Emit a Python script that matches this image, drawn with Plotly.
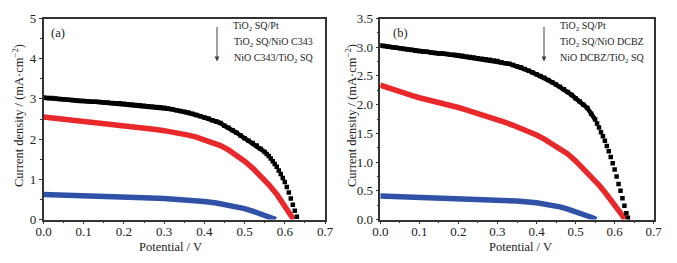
import plotly.graph_objects as go

# ---------------- Panel (a) data ----------------
a_black_x = [0.00, 0.01, 0.02, 0.03, 0.04, 0.05, 0.06, 0.07, 0.08, 0.09, 0.10, 0.11, 0.12, 0.13, 0.14,
             0.15, 0.16, 0.17, 0.18, 0.19, 0.20, 0.21, 0.22, 0.23, 0.24, 0.25, 0.26, 0.27, 0.28, 0.29,
             0.30, 0.31, 0.32, 0.33, 0.34, 0.35, 0.36, 0.37, 0.38, 0.39, 0.40, 0.41, 0.42, 0.43, 0.44,
             0.45, 0.46, 0.47, 0.48, 0.49, 0.50, 0.51, 0.52, 0.53, 0.54, 0.55, 0.555, 0.56, 0.565,
             0.57, 0.575, 0.58, 0.585, 0.59, 0.595, 0.60, 0.605, 0.61, 0.615, 0.62, 0.625, 0.63]
a_black_y = [3.03, 3.02, 3.02, 3.01, 3.00, 2.99, 2.98, 2.97, 2.96, 2.95, 2.95, 2.94, 2.93, 2.93, 2.92,
             2.91, 2.91, 2.90, 2.89, 2.89, 2.88, 2.87, 2.86, 2.85, 2.84, 2.83, 2.82, 2.81, 2.80, 2.79,
             2.78, 2.76, 2.74, 2.72, 2.70, 2.68, 2.66, 2.63, 2.60, 2.57, 2.54, 2.51, 2.47, 2.44, 2.40,
             2.33, 2.28, 2.22, 2.16, 2.09, 2.02, 1.96, 1.90, 1.84, 1.76, 1.68, 1.63, 1.58, 1.52,
             1.45, 1.38, 1.31, 1.22, 1.13, 1.03, 0.93, 0.81, 0.67, 0.52, 0.37, 0.22, 0.07]

a_red_x = [0.00, 0.02, 0.04, 0.06, 0.08, 0.10, 0.12, 0.14, 0.16, 0.18, 0.20, 0.22, 0.24, 0.26, 0.28,
           0.30, 0.32, 0.34, 0.36, 0.38, 0.40, 0.42, 0.44, 0.46, 0.48, 0.50, 0.52, 0.54, 0.56, 0.58,
           0.59, 0.60, 0.61, 0.622]
a_red_y = [2.55, 2.53, 2.51, 2.49, 2.47, 2.45, 2.43, 2.41, 2.39, 2.37, 2.35, 2.33, 2.30, 2.27, 2.24,
           2.21, 2.18, 2.14, 2.10, 2.05, 1.99, 1.92, 1.84, 1.73, 1.60, 1.45, 1.28, 1.08, 0.87, 0.63,
           0.49, 0.33, 0.18, 0.00]

a_blue_x = [0.00, 0.05, 0.10, 0.15, 0.20, 0.25, 0.30, 0.35, 0.40, 0.43, 0.46, 0.48, 0.50, 0.52,
            0.54, 0.56, 0.578]
a_blue_y = [0.62, 0.61, 0.59, 0.58, 0.56, 0.54, 0.52, 0.50, 0.45, 0.41, 0.36, 0.32, 0.27, 0.21,
            0.14, 0.06, 0.00]

# ---------------- Panel (b) data ----------------
b_black_x = [0.00, 0.01, 0.02, 0.03, 0.04, 0.05, 0.06, 0.07, 0.08, 0.09, 0.10, 0.11, 0.12, 0.13, 0.14,
             0.15, 0.16, 0.17, 0.18, 0.19, 0.20, 0.21, 0.22, 0.23, 0.24, 0.25, 0.26, 0.27, 0.28, 0.29,
             0.30, 0.31, 0.32, 0.33, 0.34, 0.35, 0.36, 0.37, 0.38, 0.39, 0.40, 0.41, 0.42, 0.43, 0.44,
             0.45, 0.46, 0.47, 0.48, 0.49, 0.50, 0.51, 0.52, 0.53, 0.54, 0.55, 0.555, 0.56, 0.565,
             0.57, 0.575, 0.58, 0.585, 0.59, 0.595, 0.60, 0.605, 0.61, 0.615, 0.62, 0.625, 0.63, 0.634]
b_black_y = [3.03, 3.02, 3.01, 3.00, 2.99, 2.98, 2.97, 2.96, 2.95, 2.94, 2.93, 2.92, 2.92, 2.91, 2.90,
             2.89, 2.89, 2.88, 2.87, 2.87, 2.86, 2.85, 2.84, 2.83, 2.82, 2.81, 2.80, 2.79, 2.78, 2.77,
             2.76, 2.74, 2.72, 2.71, 2.69, 2.67, 2.65, 2.62, 2.59, 2.56, 2.53, 2.50, 2.47, 2.43, 2.39,
             2.35, 2.31, 2.27, 2.22, 2.17, 2.11, 2.06, 2.00, 1.94, 1.84, 1.74, 1.67, 1.60, 1.52,
             1.45, 1.37, 1.28, 1.19, 1.09, 0.98, 0.87, 0.75, 0.62, 0.50, 0.37, 0.24, 0.11, 0.03]

b_red_x = [0.00, 0.02, 0.04, 0.06, 0.08, 0.10, 0.12, 0.14, 0.16, 0.18, 0.20, 0.22, 0.24, 0.26, 0.28,
           0.30, 0.32, 0.34, 0.36, 0.38, 0.40, 0.42, 0.44, 0.46, 0.48, 0.50, 0.52, 0.54, 0.56, 0.58,
           0.60, 0.61, 0.62, 0.626]
b_red_y = [2.34, 2.29, 2.24, 2.20, 2.16, 2.12, 2.09, 2.05, 2.02, 1.98, 1.95, 1.91, 1.87, 1.82, 1.78,
           1.74, 1.69, 1.64, 1.59, 1.54, 1.47, 1.40, 1.32, 1.24, 1.14, 1.02, 0.89, 0.75, 0.60, 0.43,
           0.26, 0.17, 0.07, 0.00]

b_blue_x = [0.00, 0.05, 0.10, 0.15, 0.20, 0.25, 0.30, 0.35, 0.40, 0.43, 0.46, 0.48, 0.50, 0.52,
            0.54, 0.553]
b_blue_y = [0.41, 0.40, 0.39, 0.38, 0.36, 0.35, 0.33, 0.32, 0.29, 0.26, 0.22, 0.18, 0.14, 0.09,
            0.04, 0.00]

legend_a = ["TiO<sub>2</sub> SQ/Pt", "TiO<sub>2</sub> SQ/NiO C343", "NiO C343/TiO<sub>2</sub> SQ"]
legend_b = ["TiO<sub>2</sub> SQ/Pt", "TiO<sub>2</sub> SQ/NiO DCBZ", "NiO DCBZ/TiO<sub>2</sub> SQ"]
x_title = "Potential / V"
y_title = "Current density / (mA·cm<sup>−2</sup>)"

BLACK = "#000000"
RED = "#e8282a"
BLUE = "#2f52a6"
FONT = "Liberation Serif"
TXT = "#222222"
OFF = 8                       # page body margin in the browser
W, H = 677 - 2 * OFF, 263 - 2 * OFF
FLAT_END = 56  # index where dense black squares merge into a continuous band

def px_x(p):
    return (p - OFF) / W

def px_y(p):
    return (H - (p - OFF)) / H

fig = go.Figure()

def add_panel(bx, by, rx, ry, lx, ly, xa, ya):
    fig.add_trace(go.Scatter(x=lx, y=ly, mode="lines", line=dict(color=BLUE, width=5.5),
                             xaxis=xa, yaxis=ya, showlegend=False))
    fig.add_trace(go.Scatter(x=rx, y=ry, mode="lines", line=dict(color=RED, width=5.5),
                             xaxis=xa, yaxis=ya, showlegend=False))
    fig.add_trace(go.Scatter(x=bx[:FLAT_END], y=by[:FLAT_END], mode="lines",
                             line=dict(color=BLACK, width=4.5),
                             xaxis=xa, yaxis=ya, showlegend=False))
    fig.add_trace(go.Scatter(x=bx, y=by, mode="markers",
                             marker=dict(symbol="square", size=4.5, color=BLACK, line=dict(width=0)),
                             xaxis=xa, yaxis=ya, showlegend=False))

add_panel(a_black_x, a_black_y, a_red_x, a_red_y, a_blue_x, a_blue_y, "x", "y")
add_panel(b_black_x, b_black_y, b_red_x, b_red_y, b_blue_x, b_blue_y, "x2", "y2")

ydom = [px_y(219.5), px_y(18.5)]
axis_common = dict(showline=True, mirror=True, linecolor="#333333", linewidth=1.5,
                   ticks="outside", ticklen=3, tickwidth=1, tickcolor="#333333",
                   showgrid=False, zeroline=False, automargin=False,
                   tickfont=dict(family=FONT, size=13, color=TXT))
minor_x = dict(dtick=0.05, ticks="outside", ticklen=2, tickcolor="#333333")

fig.update_layout(
    width=W, height=H, margin=dict(l=0, r=0, t=0, b=0),
    paper_bgcolor="white", plot_bgcolor="white",
    font=dict(family=FONT, color=TXT),
    xaxis=dict(domain=[px_x(43.5), px_x(325)], range=[0, 0.7], dtick=0.1, tickformat=".1f",
               minor=minor_x, anchor="y", ticklabelstandoff=-4, **axis_common),
    yaxis=dict(domain=ydom, range=[0, 5], dtick=1, tickformat="d",
               minor=dict(dtick=0.5, ticks="outside", ticklen=2, tickcolor="#333333"),
               anchor="x", **axis_common),
    xaxis2=dict(domain=[px_x(380.3), px_x(653.7)], range=[0, 0.7], dtick=0.1, tickformat=".1f",
                minor=minor_x, anchor="y2", ticklabelstandoff=-4, **axis_common),
    yaxis2=dict(domain=ydom, range=[0, 3.5], dtick=0.5, tickformat=".1f",
                minor=dict(dtick=0.25, ticks="outside", ticklen=2, tickcolor="#333333"),
                anchor="x2", **axis_common),
)

# axis titles
for xc in (170, 520):
    fig.add_annotation(xref="paper", yref="paper", x=px_x(xc), y=px_y(247), text=x_title,
                       showarrow=False, xanchor="center", yanchor="middle",
                       font=dict(family=FONT, size=12.5, color=TXT))
for xc in (18, 351):
    fig.add_annotation(xref="paper", yref="paper", x=px_x(xc), y=px_y(116), text=y_title,
                       textangle=-90, showarrow=False, xanchor="center", yanchor="middle",
                       font=dict(family=FONT, size=12.5, color=TXT))

def add_legend(arrow_x, text_x, lines):
    fig.add_annotation(xref="paper", yref="paper", x=px_x(arrow_x), y=px_y(61.5), ax=0, ay=-36,
                       axref="pixel", ayref="pixel", text="", showarrow=True,
                       arrowhead=2, arrowsize=1, arrowwidth=1, arrowcolor="#444444")
    for txt, ypx in zip(lines, [27.0, 42.5, 58.0]):
        fig.add_annotation(xref="paper", yref="paper", x=px_x(text_x), y=px_y(ypx), text=txt,
                           showarrow=False, xanchor="left", yanchor="middle",
                           font=dict(family=FONT, size=10, color=TXT))

add_legend(217, 231.5, legend_a)
add_legend(544, 558, legend_b)

fig.add_annotation(xref="paper", yref="paper", x=px_x(58), y=px_y(33), text="(a)", showarrow=False,
                   xanchor="center", yanchor="middle", font=dict(family=FONT, size=12.5, color=TXT))
fig.add_annotation(xref="paper", yref="paper", x=px_x(400), y=px_y(33), text="(b)", showarrow=False,
                   xanchor="center", yanchor="middle", font=dict(family=FONT, size=12.5, color=TXT))

fig.write_html("out.html")
